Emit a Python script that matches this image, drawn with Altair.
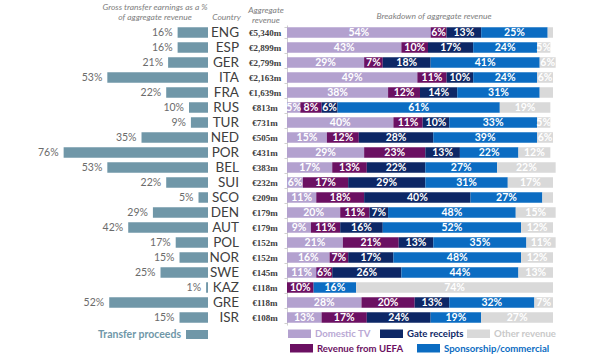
import altair as alt
import pandas as pd

countries = ["ENG", "ESP", "GER", "ITA", "FRA", "RUS", "TUR", "NED", "POR", "BEL",
             "SUI", "SCO", "DEN", "AUT", "POL", "NOR", "SWE", "KAZ", "GRE", "ISR"]
transfer_pct = [16, 16, 21, 53, 22, 10, 9, 35, 76, 53, 22, 5, 29, 42, 17, 15, 25, 1, 52, 15]
revenue_labels = ["€5,340m", "€2,899m", "€2,799m", "€2,163m", "€1,639m", "€813m", "€731m",
                  "€505m", "€431m", "€383m", "€232m", "€209m", "€179m", "€179m", "€152m",
                  "€152m", "€145m", "€118m", "€118m", "€108m"]
domestic_tv = [54, 43, 29, 49, 38, 5, 40, 15, 29, 17, 6, 11, 20, 9, 21, 16, 11, 0, 28, 13]
uefa = [6, 10, 7, 11, 12, 8, 11, 12, 23, 13, 17, 18, 11, 11, 21, 7, 6, 10, 20, 17]
gate = [13, 17, 18, 10, 14, 6, 10, 28, 13, 22, 29, 40, 7, 16, 13, 17, 26, 0, 13, 24]
sponsorship = [25, 24, 41, 24, 31, 61, 33, 39, 22, 27, 31, 27, 48, 52, 35, 48, 44, 16, 32, 19]
other = [2, 5, 6, 6, 5, 19, 5, 6, 12, 22, 17, 4, 15, 12, 11, 12, 13, 74, 7, 27]
other_labelled = [False, True, True, True, False, True, True, True, True, True,
                  True, False, True, True, True, True, True, True, True, True]

categories = ["Domestic TV", "Revenue from UEFA", "Gate receipts",
              "Sponsorship/commercial", "Other revenue"]
cat_colors = ["#b3a1cf", "#6b1062", "#0d2766", "#0b6cc2", "#d9d9d9"]
label_colors = ["#b9a8d4", "#6b1062", "#0d2766", "#0b6cc2", "#c9c9c9"]

# legend layout (style only): (x of swatch, row) in the right panel
legend_layout = {"Domestic TV": (1, 0), "Gate receipts": (93, 0), "Other revenue": (180, 0),
                 "Revenue from UEFA": (3, 1), "Sponsorship/commercial": (130, 1)}

left_df = pd.DataFrame({"country": countries, "transfer": transfer_pct,
                        "revenue": revenue_labels})

rows = []
series = [domestic_tv, uefa, gate, sponsorship, other]
for i, c in enumerate(countries):
    for k, (cat, vals) in enumerate(zip(categories, series)):
        v = vals[i]
        show = v > 0 and (cat != "Other revenue" or other_labelled[i])
        rows.append({"country": c, "category": cat, "ord": k, "value": v,
                     "label": f"{v}%" if show else ""})
long_df = pd.DataFrame(rows)

yscale = alt.Scale(paddingInner=0.3, paddingOuter=0.15)
Y = alt.Y("country:N", sort=countries, scale=yscale, axis=None)

title_style = dict(font="Lato", fontSize=8.5, fontStyle="italic", fontWeight="normal",
                   color="#808080", lineHeight=10)

# ---- left panel: transfer proceeds ----
lbase = alt.Chart(left_df)
xl = alt.X("transfer:Q", scale=alt.Scale(domain=[0, 109.5], reverse=True, nice=False),
           axis=None)
lbars = lbase.mark_bar(color="#7097a8").encode(x=xl, y=Y)
llabels = lbase.transform_calculate(lab="datum.transfer + '%'").mark_text(
    align="right", dx=-5, font="Lato", fontSize=10.5, color="#6b6b6b"
).encode(x=xl, y=Y, text="lab:N")
leg_df = pd.DataFrame({"t": ["Transfer proceeds"]})
leg_text = alt.Chart(leg_df).mark_text(
    align="right", baseline="middle", font="Lato", fontSize=10.5, fontWeight="bold",
    color="#6f97a8"
).encode(x=alt.value(181), y=alt.value(309.5), text="t:N")
leg_rect = alt.Chart(leg_df).mark_rect(color="#7097a8").encode(
    x=alt.value(186), x2=alt.value(208), y=alt.value(305), y2=alt.value(314))
left = alt.layer(lbars, llabels, leg_text, leg_rect).properties(
    width=208, height=300,
    title=alt.TitleParams(["Gross transfer earnings as a %", "of aggregate revenue"],
                          anchor="middle", dx=51, offset=4, **title_style))

# ---- country column ----
country = alt.Chart(left_df).mark_text(
    align="right", baseline="middle", font="Lato", fontSize=13.5, color="#404040"
).encode(x=alt.value(31), y=Y, text="country:N").properties(
    width=37, height=300,
    title=alt.TitleParams("Country", anchor="middle", offset=4, **title_style))

# ---- revenue column ----
revenue = alt.Chart(left_df).mark_text(
    align="center", baseline="middle", font="Liberation Serif", fontWeight="bold",
    fontSize=9, color="#404040"
).encode(x=alt.value(20), y=Y, text="revenue:N").properties(
    width=42, height=300,
    title=alt.TitleParams(["Aggregate", "revenue"], anchor="middle", offset=1,
                          **title_style))

# ---- right panel: breakdown ----
Yr = alt.Y("country:N", sort=countries, scale=yscale,
           axis=alt.Axis(labels=False, title=None, domainColor="#cfcfcf",
                         tickColor="#cfcfcf", tickSize=3, tickBand="extent"))
xr_scale = alt.Scale(domain=[0, 100], nice=False)
color_scale = alt.Scale(domain=categories, range=cat_colors)
rbase = alt.Chart(long_df)
rbars = rbase.mark_bar().encode(
    x=alt.X("value:Q", stack="zero", scale=xr_scale, axis=None),
    y=Yr,
    color=alt.Color("category:N", scale=color_scale, legend=None),
    order=alt.Order("ord:Q"))
rtext = rbase.transform_stack(
    stack="value", groupby=["country"], sort=[alt.SortField("ord")], as_=["v0", "v1"]
).transform_calculate(mid="(datum.v0 + datum.v1) / 2").mark_text(
    color="white", font="Lato", fontWeight="bold", fontSize=10.5, baseline="middle"
).encode(x=alt.X("mid:Q", scale=xr_scale, axis=None), y=Yr, text="label:N")

legend_layers = []
for cat, col, lcol in zip(categories, cat_colors, label_colors):
    lx, row = legend_layout[cat]
    y0 = 304.5 + row * 14.5
    d = pd.DataFrame({"category": [cat]})
    legend_layers.append(alt.Chart(d).mark_rect(color=col).encode(
        x=alt.value(lx), x2=alt.value(lx + 23), y=alt.value(y0), y2=alt.value(y0 + 8.5)))
    legend_layers.append(alt.Chart(d).mark_text(
        align="left", baseline="middle", font="Lato", fontSize=9.6, fontWeight="bold",
        color=lcol).encode(x=alt.value(lx + 27), y=alt.value(y0 + 4.5),
                           text="category:N"))

right = alt.layer(rbars, rtext, *legend_layers).properties(
    width=266, height=300,
    title=alt.TitleParams("Breakdown of aggregate revenue", anchor="middle", dx=14,
                          offset=5, **title_style))

chart = alt.hconcat(left, country, revenue, right, spacing=0, bounds="flush").properties(
    padding={"left": 0, "top": 2, "right": 0, "bottom": 0}
).configure_view(stroke=None)

chart.save("out.html", embed_options={"renderer": "svg", "actions": False})
